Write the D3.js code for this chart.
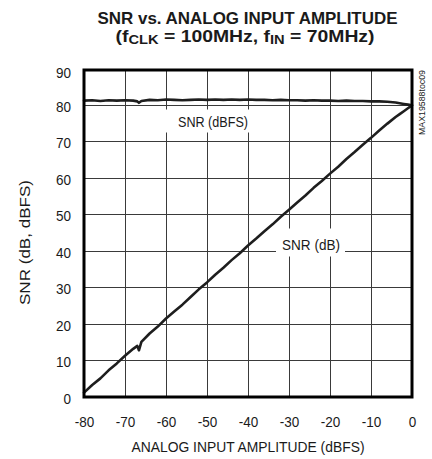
<!DOCTYPE html>
<html>
<head>
<meta charset="utf-8">
<script src="https://cdn.jsdelivr.net/npm/d3@7"></script>
<style>
  html, body { margin: 0; padding: 0; background: #fff; }
  svg { display: block; }
  text { font-family: "Liberation Sans", Arial, sans-serif; fill: #1a1a1a; }
</style>
</head>
<body>
<svg id="chart" width="432" height="459"></svg>
<script>
// Input amplitude (dBFS) at each measurement point
const amplitude = [-80, -78, -76, -74, -72, -70, -68, -67, -66.6, -66, -64, -62, -60, -58, -56, -54, -52, -50,
  -48, -46, -44, -42, -40, -38, -36, -34, -32, -30, -28, -26, -24, -22, -20, -18, -16, -14, -12, -10,
  -8, -6, -4, -3, -2, -1, 0];

// SNR referred to full scale (dBFS)
const snrDbfs = [81.2, 81.3, 81.1, 81.3, 81.2, 81.3, 81.2, 81.0, 80.6, 81.1, 81.4, 81.3, 81.5, 81.4, 81.3, 81.4, 81.5, 81.4,
  81.5, 81.4, 81.5, 81.4, 81.5, 81.4, 81.4, 81.3, 81.4, 81.3, 81.3, 81.2, 81.3, 81.2, 81.2, 81.1, 81.2, 81.1, 81.1, 81.0,
  81.0, 80.9, 80.7, 80.5, 80.3, 80.1, 79.9];

// SNR referred to the input signal (dB)
const snrDb = [1.2, 3.3, 5.1, 7.3, 9.2, 11.3, 13.2, 14.0, 12.8, 15.1, 17.4, 19.3, 21.5, 23.4, 25.3, 27.4, 29.5, 31.4,
  33.5, 35.4, 37.5, 39.4, 41.5, 43.4, 45.4, 47.3, 49.4, 51.3, 53.3, 55.2, 57.3, 59.2, 61.2, 63.1, 65.2, 67.1, 69.1, 71.0,
  73.0, 74.9, 76.7, 77.5, 78.3, 79.1, 79.9];

const xTicks = [-80, -70, -60, -50, -40, -30, -20, -10, 0];
const yTicks = [0, 10, 20, 30, 40, 50, 60, 70, 80, 90];

const svg = d3.select("#chart");
const plotLeft = 84, plotRight = 412, plotTop = 68.5, plotBottom = 397;

const x = d3.scaleLinear().domain([-80, 0]).range([plotLeft, plotRight]);
const y = d3.scaleLinear().domain([0, 90]).range([plotBottom, plotTop]);

// narrow the default sans face horizontally, the way a condensed face would look
function condense(sel, factor) {
  sel.each(function () {
    const w = this.getComputedTextLength();
    d3.select(this).attr("textLength", w * factor).attr("lengthAdjust", "spacingAndGlyphs");
  });
}

// grid
const grid = svg.append("g").attr("stroke", "#3a3a3a").attr("stroke-width", 1).attr("shape-rendering", "crispEdges");
grid.selectAll("line.v").data(xTicks.slice(1, -1)).join("line").attr("class", "v")
  .attr("x1", d => x(d)).attr("x2", d => x(d)).attr("y1", plotTop).attr("y2", plotBottom);
grid.selectAll("line.h").data(yTicks.slice(1, -1)).join("line").attr("class", "h")
  .attr("y1", d => y(d)).attr("y2", d => y(d)).attr("x1", plotLeft).attr("x2", plotRight);

// axes (labels only; the frame is drawn separately)
const xAxis = d3.axisBottom(x).tickValues(xTicks).tickSize(0).tickPadding(0).tickFormat(d => String(d));
const gx = svg.append("g").attr("transform", `translate(0,${plotBottom})`).call(xAxis);
gx.select(".domain").remove();
gx.selectAll("text").attr("font-size", 15).attr("dy", null).attr("y", 30)
  .style("font-family", "'Liberation Sans', Arial, sans-serif").attr("fill", "#1a1a1a");
condense(gx.selectAll("text"), 0.9);

const yAxis = d3.axisLeft(y).tickValues(yTicks).tickSize(0).tickPadding(0);
const gy = svg.append("g").attr("transform", `translate(${plotLeft},0)`).call(yAxis);
gy.select(".domain").remove();
gy.selectAll("text").attr("font-size", 15).attr("x", -13).attr("dy", "0.4em")
  .style("font-family", "'Liberation Sans', Arial, sans-serif").attr("fill", "#1a1a1a");
gy.selectAll(".tick").filter(d => d === 90).select("text").attr("dy", "0.62em");
condense(gy.selectAll("text"), 0.9);

// series labels on white boxes
function boxedLabel(txt, cx, cy, width, padL, padR, padT, padB) {
  const g = svg.append("g");
  const rect = g.append("rect").attr("fill", "#fff");
  const t = g.append("text").attr("x", cx).attr("y", cy).attr("text-anchor", "middle")
    .attr("dominant-baseline", "central").attr("font-size", 15)
    .attr("textLength", width).attr("lengthAdjust", "spacingAndGlyphs").text(txt);
  const b = t.node().getBBox();
  rect.attr("x", cx - width / 2 - padL).attr("y", b.y - padT)
    .attr("width", width + padL + padR).attr("height", b.height + padT + padB);
}
boxedLabel("SNR (dBFS)", 213, 121, 70, 14, 5, 3, 3);
boxedLabel("SNR (dB)", 311, 244, 58, 6, 5, 7, 4);

// data lines
const line = (vals) => d3.line().x((d, i) => x(amplitude[i])).y(d => y(d))(vals);
svg.append("path").attr("d", line(snrDbfs)).attr("fill", "none").attr("stroke", "#1e1e1e")
  .attr("stroke-width", 2.6).attr("stroke-linejoin", "round").attr("stroke-linecap", "round");
svg.append("path").attr("d", line(snrDb)).attr("fill", "none").attr("stroke", "#1e1e1e")
  .attr("stroke-width", 2.6).attr("stroke-linejoin", "round").attr("stroke-linecap", "round");

// frame
svg.append("rect").attr("x", plotLeft).attr("y", plotTop + 1.5).attr("width", plotRight - plotLeft)
  .attr("height", plotBottom - plotTop - 1.5)
  .attr("fill", "none").attr("stroke", "#000").attr("stroke-width", 3);

// titles
const title = svg.append("g").attr("font-weight", "bold").attr("text-anchor", "middle");
title.append("text").attr("x", 247.5).attr("y", 24).attr("font-size", 16.5).attr("font-weight", "bold")
  .attr("textLength", 300).attr("lengthAdjust", "spacingAndGlyphs").text("SNR vs. ANALOG INPUT AMPLITUDE");
const t2 = title.append("text").attr("x", 245).attr("y", 42).attr("font-size", 16.5).attr("font-weight", "bold")
  .attr("textLength", 259).attr("lengthAdjust", "spacingAndGlyphs");
t2.append("tspan").text("(f");
t2.append("tspan").attr("font-size", 12.5).attr("dy", 2).text("CLK");
t2.append("tspan").attr("dy", -2).text(" = 100MHz, f");
t2.append("tspan").attr("font-size", 12.5).attr("dy", 2).text("IN");
t2.append("tspan").attr("dy", -2).text(" = 70MHz)");

svg.append("text").attr("x", 248).attr("y", 451.5).attr("text-anchor", "middle").attr("font-size", 15)
  .attr("textLength", 233).attr("lengthAdjust", "spacingAndGlyphs")
  .text("ANALOG INPUT AMPLITUDE (dBFS)");
svg.append("text").attr("transform", "translate(30,242.5) rotate(-90)").attr("text-anchor", "middle")
  .attr("font-size", 15).attr("textLength", 125).attr("lengthAdjust", "spacingAndGlyphs")
  .text("SNR (dB, dBFS)");
svg.append("text").attr("transform", "translate(424.5,102.5) rotate(-90)").attr("text-anchor", "middle")
  .attr("font-size", 9.5).attr("textLength", 65)
  .attr("lengthAdjust", "spacingAndGlyphs").text("MAX19588toc09");
</script>
</body>
</html>
